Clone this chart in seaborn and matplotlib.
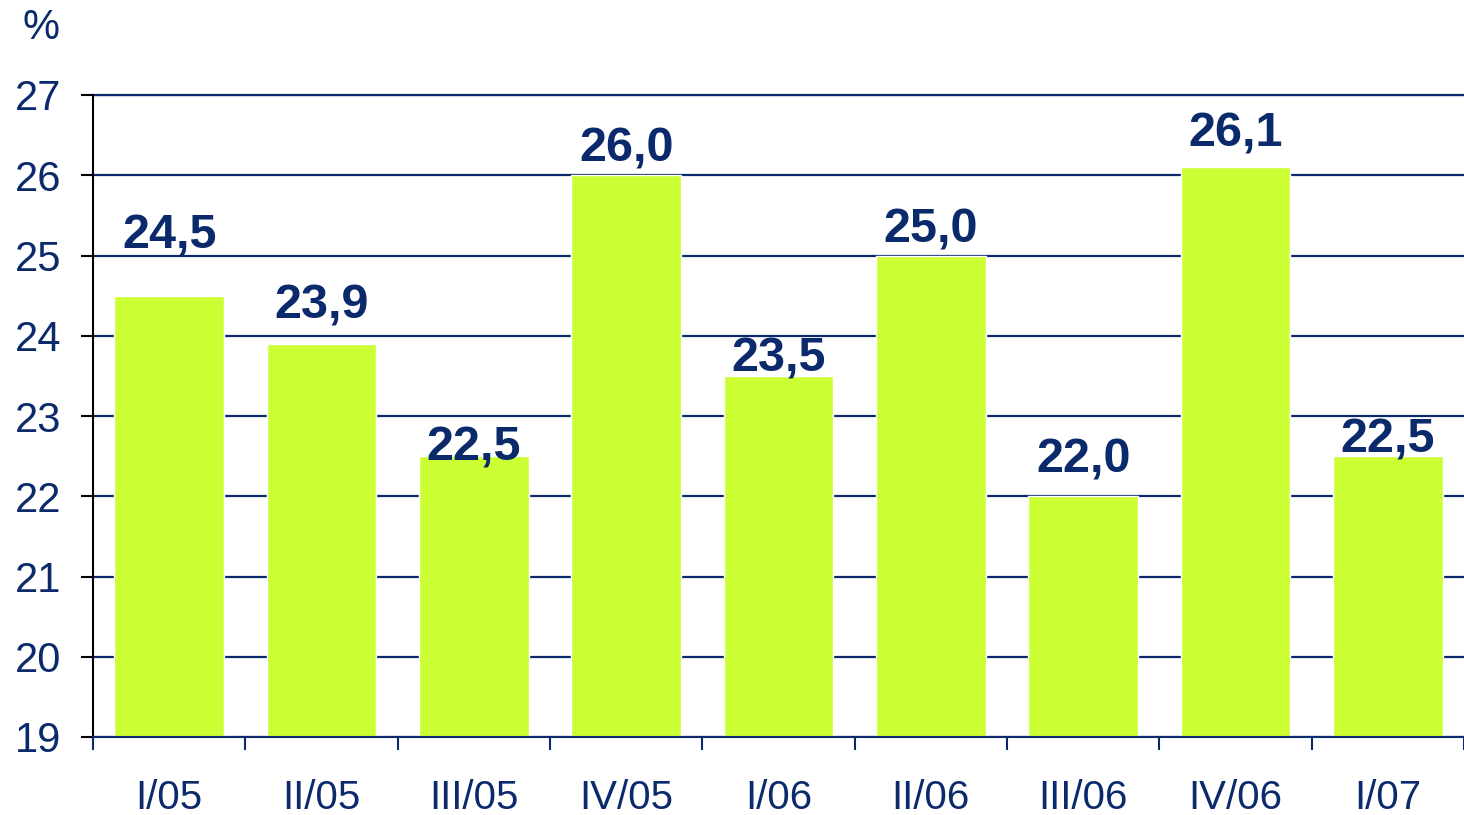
import pandas as pd
import numpy as np
import seaborn as sns
import matplotlib.pyplot as plt
from matplotlib.ticker import FixedLocator

# dados
trimestres = ["I/05", "II/05", "III/05", "IV/05", "I/06", "II/06", "III/06", "IV/06", "I/07"]
valores = [24.5, 23.9, 22.5, 26.0, 23.5, 25.0, 22.0, 26.1, 22.5]
rotulos = ["24,5", "23,9", "22,5", "26,0", "23,5", "25,0", "22,0", "26,1", "22,5"]
# distancia (px) entre topo da barra e base do rotulo, como no original
desloc_rotulo = [47, 25, -4, 14, 4, 13, 24, 21, 4]

df = pd.DataFrame({"Trimestre": trimestres, "Valor": valores})

AZUL = "#0B2A6B"
VERDE = "#CCFF33"

sns.set_theme(style="white")
plt.rcParams["font.family"] = ["Liberation Sans", "DejaVu Sans"]

fig = plt.figure(figsize=(14.64, 8.15), dpi=100)
ax = fig.add_axes([93 / 1464, 78 / 815, 1 - 93 / 1464, (737 - 95) / 815])

sns.barplot(data=df, x="Trimestre", y="Valor", color=VERDE, saturation=1,
            width=0.72, ax=ax)

ax.set_ylim(19, 27)
ax.set_xlim(-0.5, len(trimestres) - 0.5)
ax.set_axisbelow(True)
ax.yaxis.grid(True, color=AZUL, linewidth=1.6)
ax.xaxis.grid(False)
# linha de grade do topo sem corte
ax.axhline(27, color=AZUL, linewidth=1.6, clip_on=False, zorder=0.5)

ax.set_yticks(range(19, 28))
ax.tick_params(axis="y", which="major", direction="out", length=9, width=1.5,
               color="black", labelcolor=AZUL, labelsize=30, pad=14, left=True)

ax.set_xticks(range(len(trimestres)))
ax.set_xticklabels(trimestres)
ax.xaxis.set_minor_locator(FixedLocator(np.arange(-0.5, len(trimestres), 1.0)))
ax.tick_params(axis="x", which="major", length=0, labelcolor=AZUL,
               labelsize=29, pad=30)
ax.tick_params(axis="x", which="minor", direction="out", length=9, width=1.5,
               color=AZUL, bottom=True)

for lado in ["top", "right"]:
    ax.spines[lado].set_visible(False)
ax.spines["left"].set_color("black")
ax.spines["left"].set_linewidth(1.5)
ax.spines["bottom"].set_color(AZUL)
ax.spines["bottom"].set_linewidth(1.5)
ax.spines["left"].set_zorder(5)
ax.spines["bottom"].set_zorder(5)

ax.set_xlabel("")
ax.set_ylabel("")

for i, (v, txt) in enumerate(zip(valores, rotulos)):
    ax.annotate(txt, xy=(i, v), xytext=(0, desloc_rotulo[i]),
                textcoords="offset pixels", ha="center", va="baseline",
                fontsize=35, fontweight="bold", color=AZUL, zorder=6,
                annotation_clip=False)

fig.text(41 / 1464, 1 - 28 / 815, "%", ha="center", va="center",
         fontsize=30, color=AZUL)

fig.savefig("out.png", dpi=100)
